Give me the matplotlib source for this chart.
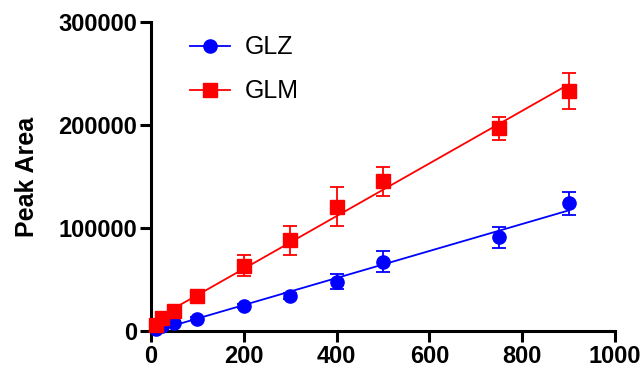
import matplotlib; matplotlib.use("Agg")
import matplotlib.pyplot as plt
import numpy as np

plt.rcParams['font.family'] = ['Liberation Sans', 'DejaVu Sans']

conc = [10, 25, 50, 100, 200, 300, 400, 500, 750, 900]
glz = [1500, 4900, 7500, 11700, 24300, 34000, 47900, 67300, 91000, 124000]
glz_err = [500, 800, 1000, 1500, 2000, 2500, 7000, 10000, 10500, 11500]
glm = [5800, 12300, 19700, 34300, 63400, 88300, 120700, 145600, 196800, 233300]
glm_err = [800, 1200, 2000, 2500, 10000, 14000, 19000, 14000, 11300, 17500]

BLUE = "#0000ff"; RED = "#ff0000"

fig = plt.figure(figsize=(6.42, 3.73), dpi=100)
ax = fig.add_axes([0.235, 0.1126, 0.723, 0.828])

x = np.array(conc, float)
for y, e, c, m, lab in [(glz, glz_err, BLUE, "o", "GLZ"), (glm, glm_err, RED, "s", "GLM")]:
    y = np.array(y, float)
    k, b = np.polyfit(x, y, 1)
    ax.errorbar(x, y, yerr=e, fmt=m, color=c, ms=9.5, capsize=5, elinewidth=1.3,
                capthick=1.3, clip_on=False, zorder=3, linestyle="none")
    ax.plot(x, k * x + b, color=c, lw=1.3, zorder=2)
    # legend proxy
    ax.plot([], [], color=c, marker=m, ms=9.5, lw=1.3, label=lab)

ax.set_xlim(0, 1000)
ax.set_ylim(0, 300000)
ax.set_xticks(range(0, 1001, 200))
ax.set_yticks([0, 100000, 200000, 300000])
ax.set_yticklabels(["0", "100000", "200000", "300000"])
for s in ["top", "right"]:
    ax.spines[s].set_visible(False)
for s in ["left", "bottom"]:
    ax.spines[s].set_linewidth(2.2)
ax.tick_params(width=2.2, length=8, labelsize=17, pad=2)
for t in ax.get_xticklabels() + ax.get_yticklabels():
    t.set_fontweight("bold")
ax.set_ylabel("Peak Area", fontsize=18, fontweight="bold", labelpad=14)

ax.legend(loc="upper left", bbox_to_anchor=(0.035, 1.03), frameon=False,
          fontsize=18, handlelength=1.6, labelspacing=0.8, handletextpad=0.6)

fig.savefig("out.png", dpi=100)
